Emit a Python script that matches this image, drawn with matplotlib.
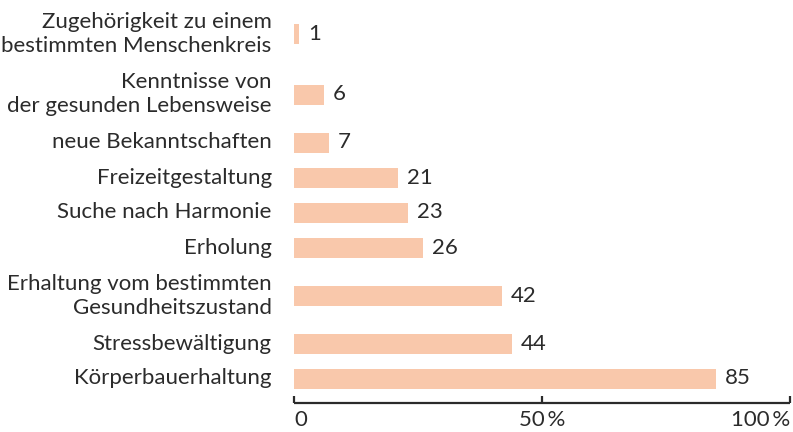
import matplotlib
matplotlib.use("Agg")
import matplotlib.pyplot as plt

# Daten (Prozent der Befragten)
labels = [
    "Zugehörigkeit zu einem\nbestimmten Menschenkreis",
    "Kenntnisse von\nder gesunden Lebensweise",
    "neue Bekanntschaften",
    "Freizeitgestaltung",
    "Suche nach Harmonie",
    "Erholung",
    "Erhaltung vom bestimmten\nGesundheitszustand",
    "Stressbewältigung",
    "Körperbauerhaltung",
]
values = [1, 6, 7, 21, 23, 26, 42, 44, 85]
tick_values = [0, 50, 100]
tick_labels = ["0", "50\u2009%", "100\u2009%"]

plt.rcParams['font.family'] = ['Lato', 'DejaVu Sans']
text_color = "#2b2b2b"
bar_color = "#f9c8ab"
fs = 16

# Zeilenpositionen: zweizeilige Beschriftungen brauchen mehr Platz
pos = []
prev = None
for lab in labels:
    h = 30.5 if "\n" in lab else 17.5
    if prev is None:
        y = 33.5
    else:
        y = y + prev + h
    pos.append(y)
    prev = h

fig = plt.figure(figsize=(7.93, 4.32), dpi=100)
ax = fig.add_axes([294 / 793, (432 - 403) / 432, (790 - 294) / 793, 403 / 432])

ax.barh(pos, values, height=20, color=bar_color)
for p, v, lab in zip(pos, values, labels):
    ax.text(v + 1.8, p, str(v), va="center", ha="left", fontsize=fs, color=text_color)
    ax.text(-4.5, p, lab, va="center", ha="right", fontsize=fs, color=text_color,
            linespacing=1.25)

ax.set_xlim(0, 100)
ax.set_ylim(403, 0)
ax.set_yticks([])
for s in ["top", "right", "left"]:
    ax.spines[s].set_visible(False)
ax.spines["bottom"].set_linewidth(1.6)
ax.spines["bottom"].set_color(text_color)
ax.spines["bottom"].set_capstyle("butt")

ax.set_xticks(tick_values)
ax.set_xticklabels(tick_labels, fontsize=fs, color=text_color)
ax.tick_params(axis="x", direction="in", length=5, width=1.6, color=text_color, pad=5)
tl = ax.get_xticklabels()
tl[0].set_ha("left")
tl[2].set_ha("right")

fig.savefig("out.png", dpi=100)
